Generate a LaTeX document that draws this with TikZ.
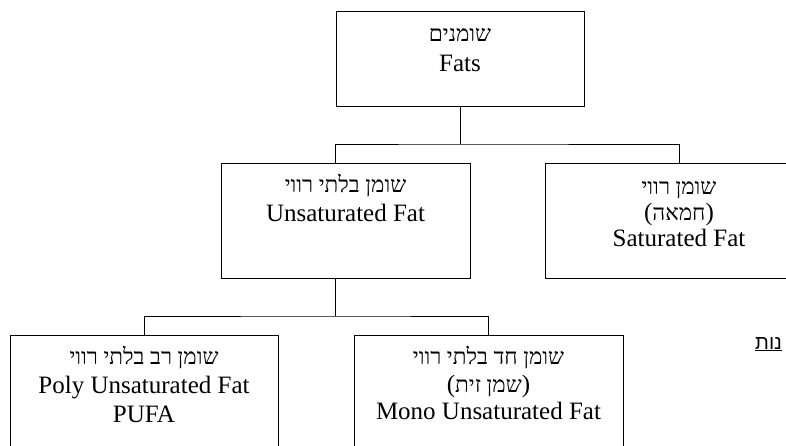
\documentclass[tikz,border=0pt]{standalone}
\usepackage{fontspec}
\setmainfont{Liberation Serif}
\newfontfamily\hebfont[Script=Hebrew]{Liberation Serif}
\newfontfamily\hebsans[Script=Hebrew]{Liberation Sans}
\TeXXeTstate=1
\newcommand{\heb}[1]{{\hebfont\fontsize{22.5}{26}\selectfont\beginR #1\endR}}
\newcommand{\topline}{\rule{0pt}{20pt}}
\begin{document}
\begin{tikzpicture}[x=1pt,y=-1pt,
    box/.style={draw,line width=1pt,inner sep=0pt,minimum height=115pt},
    lbl/.style={anchor=north,align=center,inner sep=0pt,font=\fontsize{25}{29}\selectfont},
    conn/.style={line width=1pt}]
    \useasboundingbox (0,0) rectangle (786,445);
    \clip (0,0) rectangle (786,445);
    % boxes
    \node[box,minimum width=248pt,minimum height=95pt] (fats) at (460,58.5) {};
    \node[box,minimum width=249pt] (unsat) at (345.5,220.5) {};
    \node[box,minimum width=268pt] (sat) at (679,220.5) {};
    \node[box,minimum width=268pt,minimum height=130pt] (poly) at (144,400) {};
    \node[box,minimum width=269pt,minimum height=130pt] (mono) at (488.5,400) {};
    % texts
    \node[lbl,font=\fontsize{25}{30}\selectfont] (fatsT) at ([yshift=-11pt]fats.north) {\topline\heb{שומנים}\\Fats};
    \node[lbl] (unsatT) at ([yshift=-10pt]unsat.north) {\topline\heb{שומן בלתי רווי}\\Unsaturated Fat};
    \node[lbl,font=\fontsize{25}{26}\selectfont] (satT) at ([yshift=-12pt]sat.north) {\topline\heb{שומן רווי}\\(\heb{חמאה})\\Saturated Fat};
    \node[lbl] (polyT) at ([yshift=-10pt]poly.north) {\topline\heb{שומן רב בלתי רווי}\\Poly Unsaturated Fat\\PUFA};
    \node[lbl,font=\fontsize{25}{27.5}\selectfont] (monoT) at ([yshift=-10pt]mono.north) {\topline\heb{שומן חד בלתי רווי}\\(\heb{שמן זית})\\Mono Unsaturated Fat};
    \node[anchor=base west,inner sep=0pt,font=\hebsans\fontsize{20}{24}\selectfont] (frag) at (755,349) {\underline{\beginR נות\endR}};
    % connectors
    \coordinate (busTop) at (460,144);
    \coordinate (busLow) at (335,316);
    \draw[conn] (fats.south) -- (busTop);
    \draw[conn] ([xshift=-10.5pt]unsat.north) |- (busTop) -| (sat.north);
    \draw[conn] ([xshift=-10.5pt]unsat.south) -- (busLow);
    \draw[conn] (poly.north) |- (busLow) -| ([xshift=-0.5pt]mono.north);
\end{tikzpicture}
\end{document}
